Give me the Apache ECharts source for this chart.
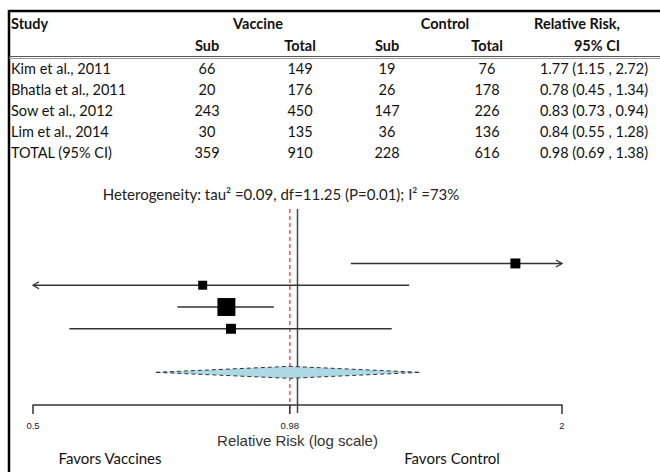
<!DOCTYPE html>
<html>
<head>
<meta charset="utf-8">
<script src="https://cdn.jsdelivr.net/npm/echarts@6/dist/echarts.min.js"></script>
<style>
  html, body { margin: 0; padding: 0; background: #fff; }
  #chart { width: 660px; height: 472px; }
</style>
</head>
<body>
<div id="chart"></div>
<script>
// ---- study data ----
const studies      = ['Kim et al., 2011', 'Bhatla et al., 2011', 'Sow et al., 2012', 'Lim et al., 2014'];
const vaccineSub   = [66, 20, 243, 30];
const vaccineTotal = [149, 176, 450, 135];
const controlSub   = [19, 26, 147, 36];
const controlTotal = [76, 178, 226, 136];
const rrPoint      = [1.77, 0.78, 0.83, 0.84];
const rrLower      = [1.15, 0.45, 0.73, 0.55];
const rrUpper      = [2.72, 1.34, 0.94, 1.28];
const studyWeight  = [16.5, 13.4, 53.6, 16.5];   // % weight, sets box area

// ---- pooled estimate ----
const totalLabel   = 'TOTAL (95% CI)';
const totalCounts  = [359, 910, 228, 616];
const pooledRR     = [0.98, 0.69, 1.38];          // point, lower, upper

// ---- axis ----
const axisMin   = 0.5;
const axisMax   = 2;
const tickVals  = [0.5, 0.98, 2];
const tickText  = ['0.5', '0.98', '2'];
const nullValue = 1;

const heteroText = 'Heterogeneity: tau\u00B2 =0.09, df=11.25 (P=0.01); I\u00B2 =73%';

const fmt = v => v.toFixed(2);
const ciText = (p, l, u) => `${fmt(p)} (${fmt(l)} , ${fmt(u)})`;

// ---- table layout ----
const tableFont = 'Lato, "Noto Sans", sans-serif';
const tableSize = 14.5;
const colX = { study: 11, vSub: 207, vTot: 300, cSub: 387, cTot: 487, rr: 594 };
const headY1 = 23, headY2 = 45, rowY0 = 68, rowGap = 21;

const graphics = [];
function txt(text, x, y, align, bold) {
  graphics.push({
    type: 'text', x: x, y: y,
    style: {
      text: text, textAlign: align, textVerticalAlign: 'middle',
      font: (bold ? 'bold ' : '') + tableSize + 'px ' + tableFont, fill: '#111'
    }
  });
}
// frame and header rule
graphics.push({ type: 'line', shape: { x1: 9, y1: 11, x2: 660, y2: 11 }, style: { stroke: '#000', lineWidth: 2.5 } });
graphics.push({ type: 'line', shape: { x1: 9, y1: 10, x2: 9, y2: 472 }, style: { stroke: '#000', lineWidth: 2.5 } });
graphics.push({ type: 'line', shape: { x1: 9, y1: 56.5, x2: 660, y2: 56.5 }, style: { stroke: '#555', lineWidth: 1 } });
graphics.push({ type: 'line', shape: { x1: 9, y1: 58.5, x2: 660, y2: 58.5 }, style: { stroke: '#999', lineWidth: 1 } });

// header
txt('Study', colX.study, headY1, 'left', true);
txt('Vaccine', 258, headY1, 'center', true);
txt('Control', 445, headY1, 'center', true);
txt('Relative Risk,', 577, headY1, 'center', true);
txt('Sub', colX.vSub, headY2, 'center', true);
txt('Total', colX.vTot, headY2, 'center', true);
txt('Sub', colX.cSub, headY2, 'center', true);
txt('Total', colX.cTot, headY2, 'center', true);
txt('95% CI', 597, headY2, 'center', true);

// body rows
studies.forEach((s, i) => {
  const y = rowY0 + i * rowGap;
  txt(s, colX.study, y, 'left');
  txt(String(vaccineSub[i]), colX.vSub, y, 'center');
  txt(String(vaccineTotal[i]), colX.vTot, y, 'center');
  txt(String(controlSub[i]), colX.cSub, y, 'center');
  txt(String(controlTotal[i]), colX.cTot, y, 'center');
  txt(ciText(rrPoint[i], rrLower[i], rrUpper[i]), colX.rr, y, 'center');
});
{
  const y = rowY0 + studies.length * rowGap;
  txt(totalLabel, colX.study, y, 'left');
  txt(String(totalCounts[0]), colX.vSub, y, 'center');
  txt(String(totalCounts[1]), colX.vTot, y, 'center');
  txt(String(totalCounts[2]), colX.cSub, y, 'center');
  txt(String(totalCounts[3]), colX.cTot, y, 'center');
  txt(ciText(pooledRR[0], pooledRR[1], pooledRR[2]), colX.rr, y, 'center');
}

// heterogeneity and direction labels
graphics.push({
  type: 'text', x: 281, y: 194,
  style: { text: heteroText, textAlign: 'center', textVerticalAlign: 'middle',
           font: '15px ' + tableFont, fill: '#222' }
});
graphics.push({
  type: 'text', x: 110, y: 458,
  style: { text: 'Favors Vaccines', textAlign: 'center', textVerticalAlign: 'middle',
           font: '15px ' + tableFont, fill: '#111' }
});
graphics.push({
  type: 'text', x: 452, y: 458,
  style: { text: 'Favors Control', textAlign: 'center', textVerticalAlign: 'middle',
           font: '15px ' + tableFont, fill: '#111' }
});

// ---- plot rows: studies on rows 0..3, pooled diamond on row 5 ----
const pooledRow = studies.length + 1;
const lineColor = '#333';

const studyData = studies.map((s, i) => [rrPoint[i], i, rrLower[i], rrUpper[i], studyWeight[i]]);

function renderStudy(params, api) {
  const row = api.value(1);
  const lo = api.value(2), hi = api.value(3);
  const a = api.coord([Math.max(lo, axisMin), row]);
  const b = api.coord([Math.min(hi, axisMax), row]);
  const c = api.coord([api.value(0), row]);
  const side = 2.45 * Math.sqrt(api.value(4));
  const kids = [{
    type: 'line', shape: { x1: a[0], y1: a[1], x2: b[0], y2: b[1] },
    style: { stroke: lineColor, lineWidth: 1.5 }
  }];
  if (lo < axisMin) {
    kids.push({ type: 'polyline', shape: { points: [[a[0] + 6, a[1] - 3.5], [a[0], a[1]], [a[0] + 6, a[1] + 3.5]] },
                style: { stroke: lineColor, lineWidth: 1.3, fill: null } });
  }
  if (hi > axisMax) {
    kids.push({ type: 'polyline', shape: { points: [[b[0] - 6, b[1] - 3.5], [b[0], b[1]], [b[0] - 6, b[1] + 3.5]] },
                style: { stroke: lineColor, lineWidth: 1.3, fill: null } });
  }
  kids.push({
    type: 'rect', shape: { x: c[0] - side / 2, y: c[1] - side / 2, width: side, height: side },
    style: { fill: '#000' }
  });
  return { type: 'group', children: kids };
}

function renderDiamond(params, api) {
  const row = api.value(1);
  const l = api.coord([api.value(2), row]);
  const m = api.coord([api.value(0), row]);
  const r = api.coord([api.value(3), row]);
  const h = 6;
  return {
    type: 'polygon',
    shape: { points: [[l[0], l[1]], [m[0], m[1] - h], [r[0], r[1]], [m[0], m[1] + h]] },
    style: { fill: '#add8e6', stroke: '#333', lineWidth: 1, lineDash: [4, 3] }
  };
}

// reference lines: no-effect at 1 (solid) and pooled estimate (dashed red)
const refData = [[nullValue, 0], [pooledRR[0], 1]];
function renderRef(params, api) {
  const top = api.coord([api.value(0), -2.5]);
  const bot = api.coord([api.value(0), 6.5]);
  const dashed = api.value(1) === 1;
  return {
    type: 'line',
    shape: { x1: top[0], y1: top[1], x2: bot[0], y2: bot[1] + 8 },
    style: dashed ? { stroke: '#ff5050', lineWidth: 1.5, lineDash: [4, 3] }
                  : { stroke: '#444', lineWidth: 1.5 }
  };
}

// axis ticks and labels at chosen values
const tickData = tickVals.map((v, i) => [v, i]);
function renderTick(params, api) {
  const p = api.coord([api.value(0), 6.5]);
  return {
    type: 'group',
    children: [
      { type: 'line', shape: { x1: p[0], y1: p[1], x2: p[0], y2: p[1] + 9 },
        style: { stroke: '#333', lineWidth: 1.5 } },
      { type: 'text', x: p[0], y: p[1] + 20,
        style: { text: tickText[api.value(1)], textAlign: 'center', textVerticalAlign: 'middle',
                 font: '9.5px "Liberation Sans", Arial, sans-serif', fill: '#223' } }
    ]
  };
}

const chart = echarts.init(document.getElementById('chart'), null, { renderer: 'svg' });
chart.setOption({
  animation: false,
  backgroundColor: '#fff',
  grid: { left: 33, right: 98, top: 209, bottom: 67, outerBoundsMode: 'none' },
  xAxis: {
    type: 'log', logBase: 2, min: axisMin, max: axisMax,
    axisLine: { show: true, onZero: false, lineStyle: { color: '#333', width: 1.5 } },
    axisTick: { show: false }, axisLabel: { show: false }, splitLine: { show: false },
    name: 'Relative Risk (log scale)', nameLocation: 'middle', nameGap: 28,
    nameTextStyle: { fontFamily: '"Liberation Sans", Arial, sans-serif', fontSize: 15, color: '#333' }
  },
  yAxis: { type: 'value', inverse: true, min: -2.5, max: 6.5, show: false },
  series: [
    { type: 'custom', name: 'reference', renderItem: renderRef, data: refData, clip: false, encode: { x: 0, y: 1 }, silent: true, z: 1 },
    { type: 'custom', name: 'studies', renderItem: renderStudy, data: studyData, clip: false, encode: { x: 0, y: 1 }, z: 3 },
    { type: 'custom', name: 'pooled', renderItem: renderDiamond,
      data: [[pooledRR[0], pooledRow, pooledRR[1], pooledRR[2]]], clip: false, encode: { x: 0, y: 1 }, z: 2 },
    { type: 'custom', name: 'ticks', renderItem: renderTick, data: tickData, clip: false, encode: { x: 0 }, silent: true, z: 3 }
  ],
  graphic: graphics
});
</script>
</body>
</html>
